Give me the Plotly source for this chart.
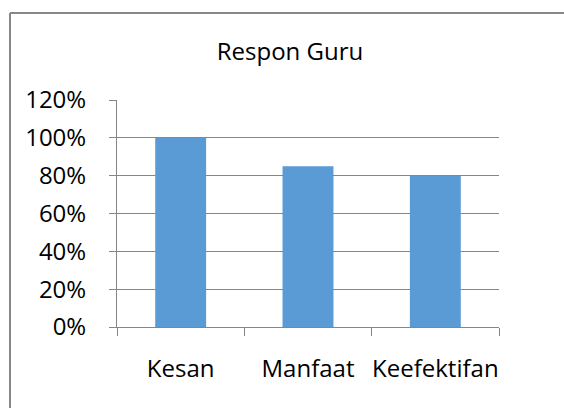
import plotly.graph_objects as go

# data
categories = ["Kesan", "Manfaat", "Keefektifan"]
values = [1.00, 0.85, 0.80]
tick_vals = [0, 0.2, 0.4, 0.6, 0.8, 1.0, 1.2]
tick_text = ["0%", "20%", "40%", "60%", "80%", "100%", "120%"]

font_name = "Open Sans"

fig = go.Figure()
fig.add_trace(go.Bar(x=categories, y=values,
                     marker=dict(color="#5B9BD5", line=dict(width=0)),
                     width=0.4))

# chart-area frame: only the top and left edges show in the crop
bx0 = (10 - 117) / 382
by1 = (327 - 13) / 227
frame = dict(color="#888888", width=2)

fig.update_layout(
    width=564, height=408,
    margin=dict(l=117, r=65, t=100, b=81),
    paper_bgcolor="white", plot_bgcolor="white",
    showlegend=False,
    font=dict(family=font_name, size=24, color="#000000"),
    title=dict(text="Respon Guru", x=290 / 564, xanchor="center",
               y=1 - 52 / 408, yanchor="middle",
               font=dict(family=font_name, size=24, color="#000000")),
    shapes=[
        dict(type="line", xref="paper", yref="paper",
             x0=bx0, x1=1.5, y0=by1, y1=by1, line=frame, layer="below"),
        dict(type="line", xref="paper", yref="paper",
             x0=bx0, x1=bx0, y0=-1.0, y1=by1, line=frame, layer="below"),
    ],
)

fig.update_xaxes(showline=True, linecolor="#868686", linewidth=1,
                 ticks="outside", tickson="boundaries", ticklen=8,
                 tickcolor="#868686", ticklabelstandoff=20,
                 tickangle=0, automargin=False,
                 showgrid=False)
fig.update_yaxes(range=[0, 1.2], tickvals=tick_vals, ticktext=tick_text,
                 showline=True, linecolor="#868686", linewidth=1,
                 ticks="outside", ticklen=7, tickcolor="#868686",
                 ticklabelstandoff=18, automargin=False,
                 showgrid=True, gridcolor="#868686", gridwidth=1,
                 zeroline=False)

# drop the page's default body margin so the figure sits at the corner
fig.write_html("out.html",
               config={"displayModeBar": False},
               post_script="document.body.style.margin='0';"
                           "document.body.style.overflow='hidden';")
